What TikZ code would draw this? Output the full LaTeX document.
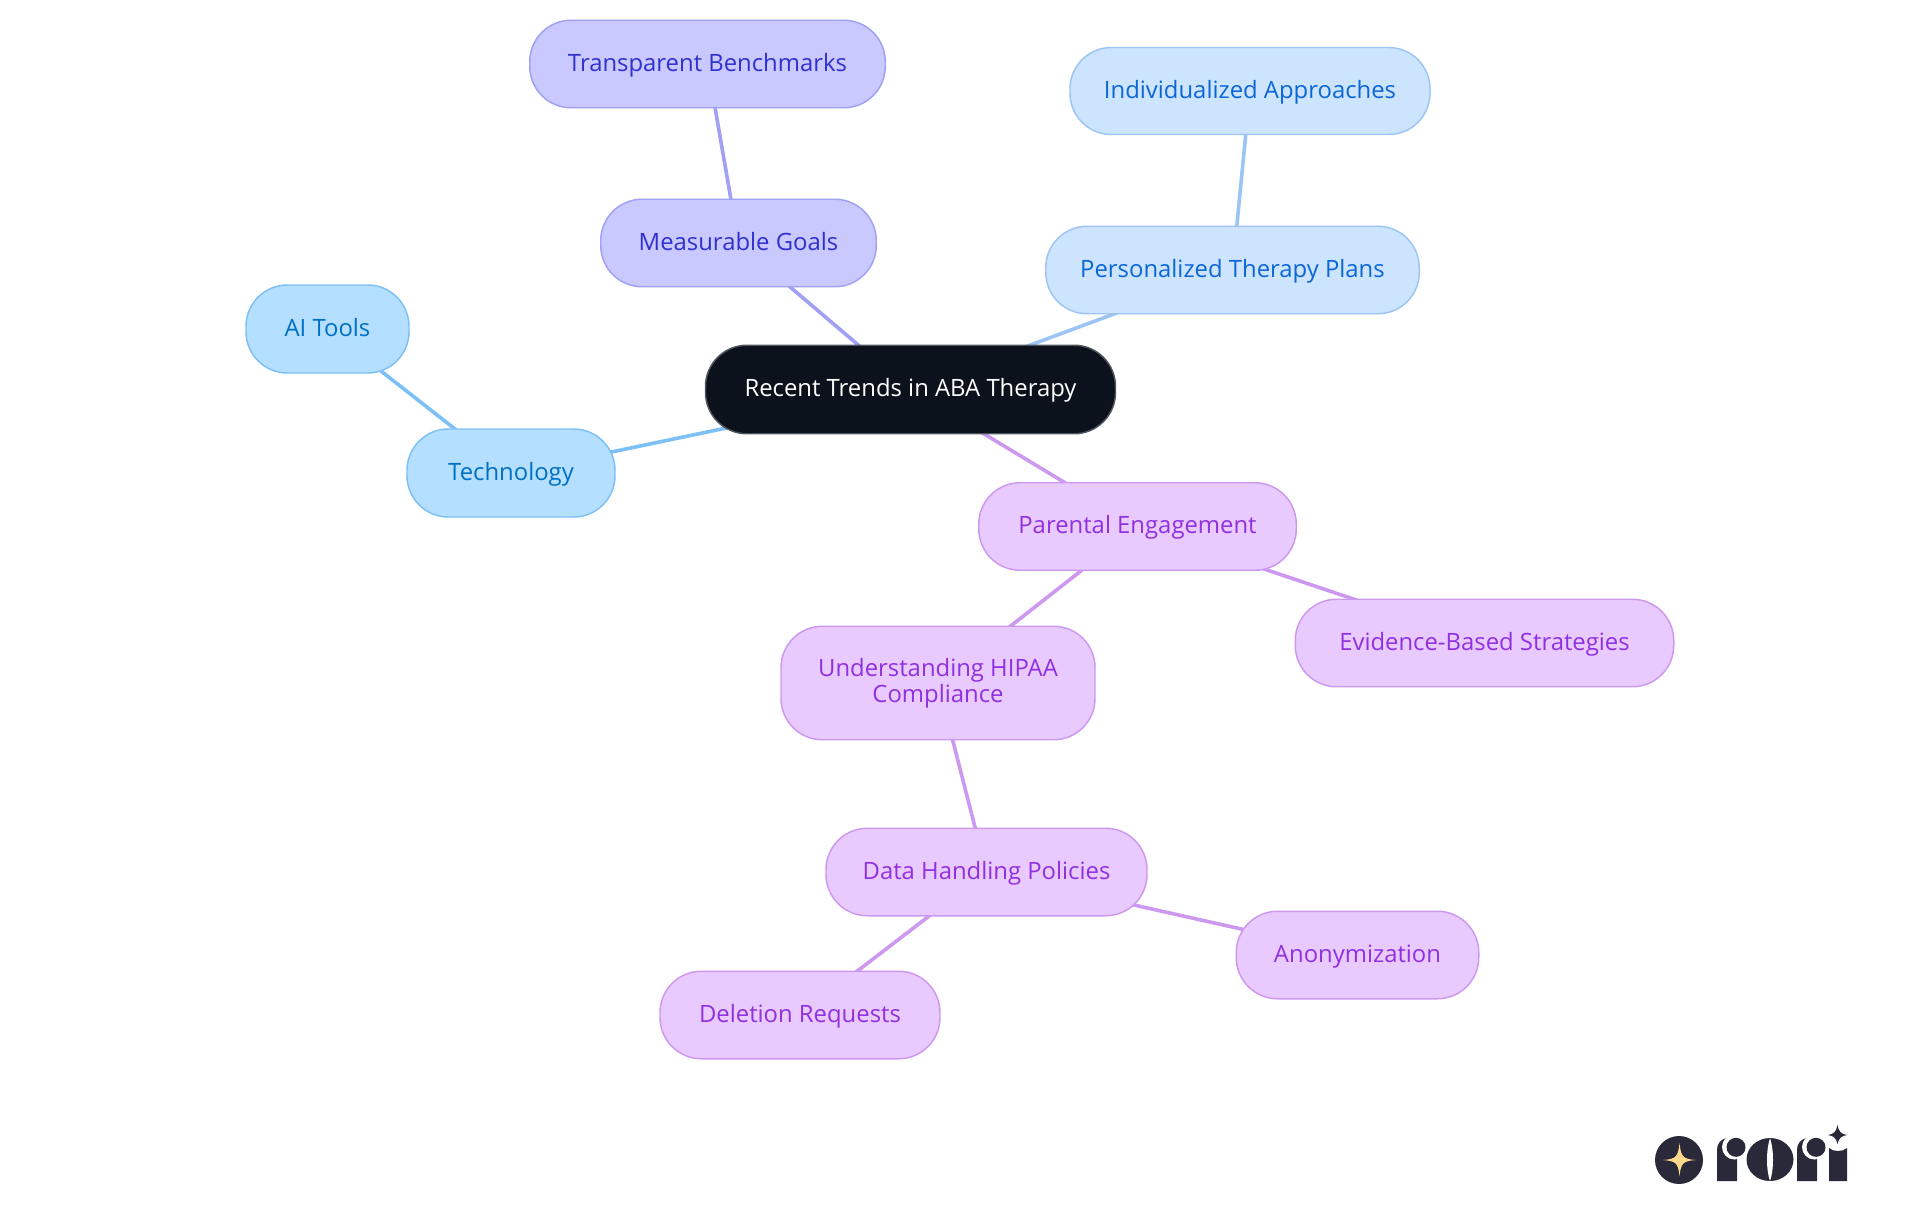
\documentclass[tikz,border=0pt]{standalone}
\usepackage{fontspec}
\setmainfont{Open Sans}
\usetikzlibrary{backgrounds}

\definecolor{rootfill}{HTML}{0B121B}
\definecolor{rootline}{HTML}{50565D}
\definecolor{techfill}{HTML}{B5DFFF}
\definecolor{techline}{HTML}{7CC0F5}
\definecolor{techtext}{HTML}{0070C4}
\definecolor{goalfill}{HTML}{C9C9FF}
\definecolor{goalline}{HTML}{A0A0F5}
\definecolor{goaltext}{HTML}{3030D0}
\definecolor{planfill}{HTML}{CDE4FF}
\definecolor{planline}{HTML}{9CC4F5}
\definecolor{plantext}{HTML}{0B66D6}
\definecolor{careflll}{HTML}{E8CAFF}
\definecolor{careline}{HTML}{CD98F0}
\definecolor{caretext}{HTML}{9030E0}
\definecolor{logoink}{HTML}{29293A}
\definecolor{logostar}{HTML}{FFD98A}

\tikzset{
    pill/.style={draw, line width=1.1pt, rounded corners=31pt, inner sep=0pt, align=center,
        text height=15pt, text depth=4.5pt, font=\fontsize{17.9}{19.5}\selectfont},
    rootpill/.style={pill, fill=rootfill, draw=rootline, text=white},
    techpill/.style={pill, fill=techfill, draw=techline, text=techtext},
    goalpill/.style={pill, fill=goalfill, draw=goalline, text=goaltext},
    planpill/.style={pill, fill=planfill, draw=planline, text=plantext},
    carepill/.style={pill, fill=careflll, draw=careline, text=caretext},
    link/.style={line width=2.7pt}
}

\begin{document}
\begin{tikzpicture}[x=0.75pt, y=-0.75pt]
        \def\u{0.75pt} % one pixel of the reference
        \useasboundingbox (0,0) rectangle (1920,1215);

        % Draw the central node
        \node[rootpill, minimum width=410*\u, minimum height=88.5*\u] (root) at (910.5,389.5) {Recent Trends in ABA Therapy};

        % Draw technology branch
        \node[techpill, minimum width=208*\u, minimum height=88*\u] (technology) at (511,473) {Technology};
        \node[techpill, minimum width=163*\u, minimum height=88*\u] (aitools) at (327.5,329) {AI Tools};

        % Draw goals branch
        \node[goalpill, minimum width=275.5*\u, minimum height=87.5*\u] (goals) at (738.5,243) {Measurable Goals};
        \node[goalpill, minimum width=355.5*\u, minimum height=87.5*\u] (benchmarks) at (707.5,64) {Transparent Benchmarks};

        % Draw therapy plan branch
        \node[planpill, minimum width=373.5*\u, minimum height=87.5*\u] (plans) at (1232.5,270) {Personalized Therapy Plans};
        \node[planpill, minimum width=360*\u, minimum height=87*\u] (approaches) at (1250,91) {Individualized Approaches};

        % Draw parental branch
        \node[carepill, minimum width=317.5*\u, minimum height=87.5*\u] (parental) at (1137.5,526.5) {Parental Engagement};
        \node[carepill, minimum width=378.5*\u, minimum height=87.5*\u] (evidence) at (1484.5,643) {Evidence-Based Strategies};
        \node[carepill, text height={}, text depth={}, minimum width=314*\u, minimum height=113.5*\u] (hipaa) at (938,683) {Understanding HIPAA\\Compliance};
        \node[carepill, minimum width=321*\u, minimum height=87.5*\u] (policies) at (986.5,872) {Data Handling Policies};
        \node[carepill, minimum width=242.5*\u, minimum height=87.5*\u] (anonymization) at (1357.5,955) {Anonymization};
        \node[carepill, minimum width=280*\u, minimum height=87.5*\u] (deletion) at (800,1015) {Deletion Requests};

        % Draw links behind the nodes
        \begin{scope}[on background layer]
            \draw[link, techline] (root.center) -- (technology.center);
            \draw[link, techline] (technology.center) -- (aitools.center);
            \draw[link, goalline] (root.center) -- (goals.center);
            \draw[link, goalline] (goals.center) -- (benchmarks.center);
            \draw[link, planline] (root.center) -- (plans.center);
            \draw[link, planline] (plans.center) -- (approaches.center);
            \draw[link, careline] (root.center) -- (parental.center);
            \draw[link, careline] (parental.center) -- (evidence.center);
            \draw[link, careline] (parental.center) -- (hipaa.center);
            \draw[link, careline] (hipaa.center) -- (policies.center);
            \draw[link, careline] (policies.center) -- (anonymization.center);
            \draw[link, careline] (policies.center) -- (deletion.center);
        \end{scope}

        % Draw logo badge
        \fill[logoink] (1679,1160) circle (24);
        \fill[logostar] (1663,1160) .. controls (1676,1159) and (1678,1157) .. (1679.5,1143)
            .. controls (1681,1157) and (1683,1159) .. (1696,1160)
            .. controls (1683,1161) and (1681,1163) .. (1679.5,1176)
            .. controls (1678,1163) and (1676,1161) .. (1663,1160) -- cycle;

        % Draw first r
        \fill[logoink] (1717,1181) -- (1717,1150) .. controls (1717,1144) and (1720,1140) .. (1726,1138)
            -- (1737,1150) -- (1737,1181) -- cycle;
        \fill[white] (1734.5,1147) circle (12.5);
        \fill[logoink] (1736,1147.3) circle (9.5);

        % Draw o with its slit
        \fill[logoink] (1770,1159.5) ellipse (23.5 and 21.5);
        \fill[white] (1770,1138) .. controls (1766,1150) and (1766,1170) .. (1770,1181)
            .. controls (1774,1170) and (1774,1150) .. (1770,1138) -- cycle;

        % Draw second r
        \fill[logoink] (1797,1181) -- (1797,1150) .. controls (1797,1144) and (1800,1140) .. (1806,1138)
            -- (1817,1150) -- (1817,1181) -- cycle;
        \fill[white] (1814.5,1147) circle (12.5);
        \fill[logoink] (1816,1147.3) circle (9.5);

        % Draw i and its spark
        \fill[logoink] (1829,1181) -- (1829,1148) .. controls (1833,1152) and (1843,1152) .. (1847,1148) -- (1847,1181) -- cycle;
        \fill[logoink] (1828,1135) .. controls (1834,1134) and (1836,1132) .. (1837.5,1125)
            .. controls (1839,1132) and (1841,1134) .. (1847,1135)
            .. controls (1841,1136) and (1839,1138) .. (1837.5,1144)
            .. controls (1836,1138) and (1834,1136) .. (1828,1135) -- cycle;
    \end{tikzpicture}
\end{document}
